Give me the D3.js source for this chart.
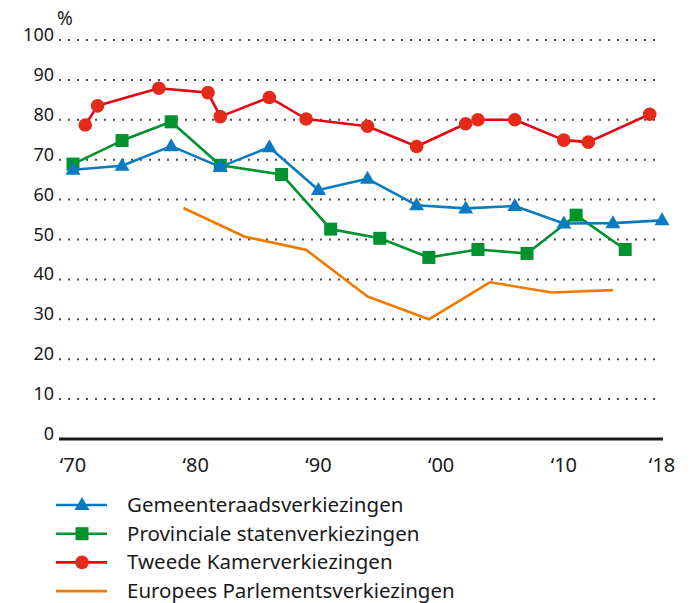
<!DOCTYPE html>
<html>
<head>
<meta charset="utf-8">
<script src="https://cdn.jsdelivr.net/npm/d3@7"></script>
<style>
  body { margin: 0; background: #fff; }
  svg { display: block; font-family: 'Noto Sans', sans-serif; }
</style>
</head>
<body>
<svg id="chart" width="690" height="603"></svg>
<script>
// opkomst per verkiezing (%)
const gemeenteraadYears = [1970, 1974, 1978, 1982, 1986, 1990, 1994, 1998, 2002, 2006, 2010, 2014, 2018];
const gemeenteraadValues = [67.5, 68.5, 73.4, 68.2, 73.1, 62.4, 65.2, 58.6, 57.8, 58.4, 54.0, 54.1, 54.8];

const provincialeYears = [1970, 1974, 1978, 1982, 1987, 1991, 1995, 1999, 2003, 2007, 2011, 2015];
const provincialeValues = [68.9, 74.8, 79.5, 68.6, 66.3, 52.6, 50.3, 45.5, 47.5, 46.5, 56.1, 47.5];

const tweedeKamerYears = [1971, 1972, 1977, 1981, 1982, 1986, 1989, 1994, 1998, 2002, 2003, 2006, 2010, 2012, 2017];
const tweedeKamerValues = [78.7, 83.5, 87.9, 86.8, 80.8, 85.6, 80.2, 78.4, 73.3, 79.0, 80.0, 80.0, 74.9, 74.4, 81.4];

const europeesYears = [1979, 1984, 1989, 1994, 1999, 2004, 2009, 2014];
const europeesValues = [57.9, 50.7, 47.4, 35.7, 30.0, 39.3, 36.7, 37.3];

const yTicks = [0, 10, 20, 30, 40, 50, 60, 70, 80, 90, 100];
const xTicks = [1970, 1980, 1990, 2000, 2010, 2018];
const xTickLabels = ['‘70', '‘80', '‘90', '‘00', '‘10', '‘18'];

const config = {
  plotLeft: 59,
  plotRight: 663,
  fontColor: '#1a1a1a',
  lineWidth: 2.6,
};

const series = [
  { name: 'Gemeenteraadsverkiezingen', years: gemeenteraadYears, values: gemeenteraadValues, color: '#0a7bc2', marker: 'triangle' },
  { name: 'Provinciale statenverkiezingen', years: provincialeYears, values: provincialeValues, color: '#00922f', marker: 'square' },
  { name: 'Tweede Kamerverkiezingen', years: tweedeKamerYears, values: tweedeKamerValues, color: '#e30613', markerColor: '#e42a19', marker: 'circle' },
  { name: 'Europees Parlementsverkiezingen', years: europeesYears, values: europeesValues, color: '#f07a00', marker: null },
];

const svg = d3.select('#chart');

const xScale = d3.scaleLinear().domain([1970, 2018]).range([73, 662]);
const yScale = d3.scaleLinear().domain([0, 100]).range([439, 40]);

// gridlines (dotted)
svg
  .append('g')
  .attr('class', 'grid')
  .selectAll('line')
  .data(yTicks.filter((d) => d > 0))
  .join('line')
  .attr('x1', config.plotLeft)
  .attr('x2', config.plotRight - 4)
  .attr('y1', (d) => yScale(d))
  .attr('y2', (d) => yScale(d))
  .attr('stroke', '#4a4a4a')
  .attr('stroke-width', 2)
  .attr('stroke-dasharray', '2 7');

// y labels
svg
  .append('g')
  .attr('class', 'y-labels')
  .selectAll('text')
  .data(yTicks)
  .join('text')
  .attr('x', 54)
  .attr('y', (d) => yScale(d) + 1)
  .style('text-anchor', 'end')
  .style('font-size', '18px')
  .style('fill', config.fontColor)
  .text((d) => d);

svg
  .append('text')
  .attr('x', 57)
  .attr('y', 25)
  .style('font-size', '19px')
  .style('fill', config.fontColor)
  .text('%');

// x axis
svg
  .append('line')
  .attr('x1', config.plotLeft)
  .attr('x2', config.plotRight)
  .attr('y1', yScale(0))
  .attr('y2', yScale(0))
  .attr('stroke', '#1a1a1a')
  .attr('stroke-width', 3);

svg
  .append('g')
  .attr('class', 'x-labels')
  .selectAll('text')
  .data(xTicks)
  .join('text')
  .attr('x', (d) => xScale(d))
  .attr('y', 472)
  .style('text-anchor', 'middle')
  .style('font-size', '20px')
  .style('fill', config.fontColor)
  .text((d, i) => xTickLabels[i]);

const line = d3
  .line()
  .x((d) => xScale(d.year))
  .y((d) => yScale(d.value));

function drawMarker(sel, type, color) {
  if (type === 'circle') {
    sel.append('circle').attr('r', 6.8).attr('fill', color);
  } else if (type === 'square') {
    sel.append('rect').attr('x', -6.5).attr('y', -6.5).attr('width', 13).attr('height', 13).attr('fill', color);
  } else if (type === 'triangle') {
    sel.append('path').attr('d', 'M0,-8L7.5,5L-7.5,5Z').attr('fill', color);
  }
}

// draw Europees first so it sits underneath
const drawOrder = [3, 1, 0, 2];

drawOrder.forEach((idx) => {
  const s = series[idx];
  const points = s.years.map((year, i) => ({ year, value: s.values[i] }));
  const grp = svg.append('g').attr('class', 'series');

  grp
    .append('path')
    .datum(points)
    .attr('d', line)
    .attr('fill', 'none')
    .attr('stroke', s.color)
    .attr('stroke-width', config.lineWidth)
    .attr('stroke-linejoin', 'round');

  if (s.marker) {
    grp
      .selectAll('.marker')
      .data(points)
      .join('g')
      .attr('class', 'marker')
      .attr('transform', (d) => `translate(${xScale(d.year)},${yScale(d.value)})`)
      .each(function () {
        drawMarker(d3.select(this), s.marker, s.markerColor || s.color);
      });
  }
});

// legend
const legend = svg
  .append('g')
  .attr('class', 'legend')
  .selectAll('g')
  .data(series)
  .join('g')
  .attr('transform', (d, i) => `translate(56,${505 + i * 28.7})`);

legend
  .append('line')
  .attr('x1', 0)
  .attr('x2', 51)
  .attr('stroke', (d) => d.color)
  .attr('stroke-width', config.lineWidth);

legend.each(function (d) {
  const m = d3.select(this).append('g').attr('transform', 'translate(26,0)');
  drawMarker(m, d.marker, d.markerColor || d.color);
});

legend
  .append('text')
  .attr('x', 71)
  .attr('y', 7)
  .style('font-size', '20.5px')
  .style('fill', config.fontColor)
  .text((d) => d.name);
</script>
</body>
</html>
